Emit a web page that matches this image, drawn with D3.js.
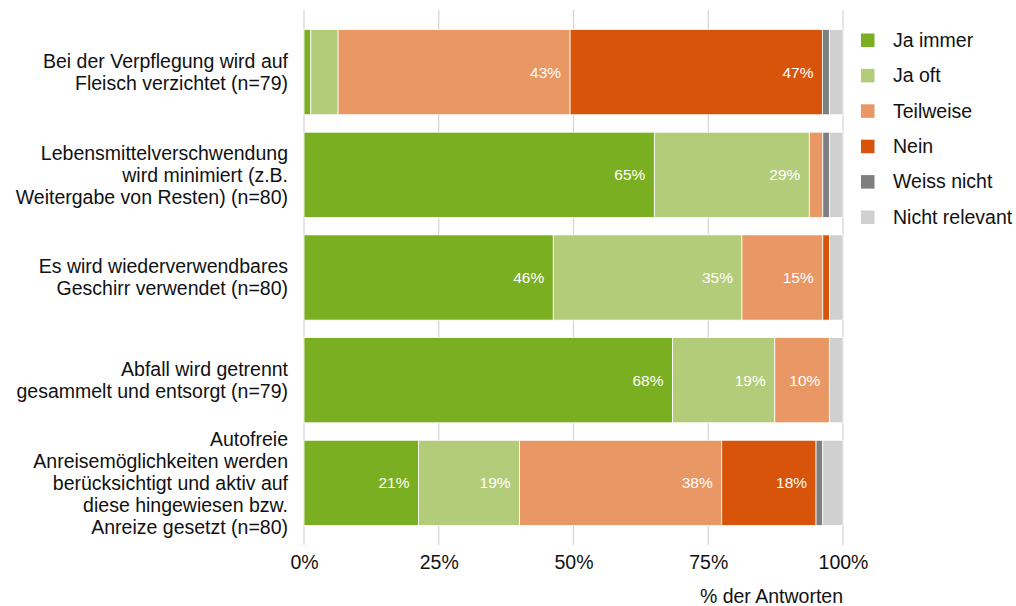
<!DOCTYPE html>
<html>
<head>
<meta charset="utf-8">
<script src="https://cdn.jsdelivr.net/npm/d3@7"></script>
<style>
  html, body { margin: 0; padding: 0; background: #fff; }
  svg { display: block; font-family: "Liberation Sans", Arial, sans-serif; }
</style>
</head>
<body>
<svg id="chart" width="1016" height="606"></svg>
<script>
// Answer categories (stack order, left to right)
var series = ['Ja immer', 'Ja oft', 'Teilweise', 'Nein', 'Weiss nicht', 'Nicht relevant'];
var colors = ['#7baf22', '#b3cc7a', '#e99764', '#d9540b', '#7f7f7f', '#d0d0d0'];

// Questions, one label line per entry
var categories = [
  ['Bei der Verpflegung wird auf', 'Fleisch verzichtet (n=79)'],
  ['Lebensmittelverschwendung', 'wird minimiert (z.B.', 'Weitergabe von Resten) (n=80)'],
  ['Es wird wiederverwendbares', 'Geschirr verwendet (n=80)'],
  ['Abfall wird getrennt', 'gesammelt und entsorgt (n=79)'],
  ['Autofreie', 'Anreisemöglichkeiten werden', 'berücksichtigt und aktiv auf', 'diese hingewiesen bzw.', 'Anreize gesetzt (n=80)']
];
var nAnswers = [79, 80, 80, 79, 80];

// Number of answers per category and question
var jaImmer = [1, 52, 37, 54, 17];
var jaOft = [4, 23, 28, 15, 15];
var teilweise = [34, 2, 12, 8, 30];
var nein = [37, 0, 1, 0, 14];
var weissNicht = [1, 1, 0, 0, 1];
var nichtRelevant = [2, 2, 2, 2, 3];

var xTicks = [0, 0.25, 0.5, 0.75, 1];

// Chart margins / panel
var PANEL = { left: 304, right: 843, top: 10, bottom: 545 };
var FONT = 19.5;
var LINE_H = 22;
var TEXT_COLOR = '#111';

var svg = d3.select('#chart');

// Build rows of shares for the stack (raw counts kept for the labels)
var counts = [jaImmer, jaOft, teilweise, nein, weissNicht, nichtRelevant];
var rows = categories.map(function(c, i) {
  var row = { idx: i, n: nAnswers[i], counts: {} };
  series.forEach(function(s, j) {
    row[s] = counts[j][i] / nAnswers[i];
    row.counts[s] = counts[j][i];
  });
  return row;
});

var x = d3.scaleLinear().domain([0, 1]).range([PANEL.left, PANEL.right]);
var y = d3.scaleBand()
  .domain(d3.range(categories.length))
  .range([PANEL.top, PANEL.bottom])
  .paddingInner(0.17)
  .paddingOuter(0.19);
var color = d3.scaleOrdinal().domain(series).range(colors);

// Grid lines
svg.append('g')
  .selectAll('line')
  .data(xTicks)
  .join('line')
  .attr('x1', function(d) { return x(d); })
  .attr('x2', function(d) { return x(d); })
  .attr('y1', PANEL.top)
  .attr('y2', PANEL.bottom)
  .attr('stroke', '#d4d4d4')
  .attr('stroke-width', 1.2);

// Stacked bars
var stacked = d3.stack().keys(series)(rows);

var layers = svg.append('g')
  .selectAll('g')
  .data(stacked)
  .join('g')
  .attr('fill', function(d) { return color(d.key); });

layers.selectAll('rect')
  .data(function(d) { return d.filter(function(p) { return p[1] - p[0] > 0; }); })
  .join('rect')
  .attr('x', function(d) { return x(d[0]); })
  .attr('width', function(d) { return x(d[1]) - x(d[0]); })
  .attr('y', function(d) { return y(d.data.idx); })
  .attr('height', y.bandwidth())
  .attr('stroke', '#fff')
  .attr('stroke-width', 0.8);

// Percent labels inside segments (only the bigger ones)
layers.each(function(layer) {
  var key = layer.key;
  d3.select(this).selectAll('text')
    .data(layer.filter(function(p) { return p.data[key] >= 0.095; }))
    .join('text')
    .attr('x', function(d) { return x(d[1]) - 9; })
    .attr('y', function(d) { return y(d.data.idx) + y.bandwidth() / 2 + 5.5; })
    .attr('text-anchor', 'end')
    .attr('fill', '#fff')
    .attr('font-size', 15.5)
    .text(function(d) { return Math.round(d.data.counts[key] * 100 / d.data.n) + '%'; });
});

// Category labels
var yLabels = svg.append('g')
  .selectAll('text')
  .data(categories)
  .join('text')
  .attr('text-anchor', 'end')
  .attr('font-size', FONT)
  .attr('fill', TEXT_COLOR);

yLabels.each(function(lines, i) {
  var cy = y(i) + y.bandwidth() / 2;
  d3.select(this).selectAll('tspan')
    .data(lines)
    .join('tspan')
    .attr('x', 288)
    .attr('y', function(d, k) {
      return cy + (k - (lines.length - 1) / 2) * LINE_H + 0.35 * FONT;
    })
    .text(function(d) { return d; });
});

// X axis
var xAxis = svg.append('g')
  .attr('transform', 'translate(0,' + PANEL.bottom + ')')
  .call(d3.axisBottom(x).tickValues(xTicks).tickFormat(d3.format('.0%')).tickSize(0).tickPadding(10));
xAxis.select('.domain').remove();
xAxis.selectAll('text')
  .attr('font-size', FONT)
  .attr('font-family', '"Liberation Sans", Arial, sans-serif')
  .attr('fill', TEXT_COLOR);

svg.append('text')
  .attr('x', PANEL.right)
  .attr('y', 603)
  .attr('text-anchor', 'end')
  .attr('font-size', FONT)
  .attr('fill', TEXT_COLOR)
  .text('% der Antworten');

// Legend
var legend = svg.append('g')
  .selectAll('g')
  .data(series)
  .join('g')
  .attr('transform', function(d, i) { return 'translate(861,' + (40 + i * 35.4) + ')'; });

legend.append('rect')
  .attr('x', 0)
  .attr('y', -6.5)
  .attr('width', 13.5)
  .attr('height', 13.5)
  .attr('fill', function(d) { return color(d); });

legend.append('text')
  .attr('x', 32)
  .attr('y', 0.35 * FONT)
  .attr('font-size', FONT)
  .attr('fill', TEXT_COLOR)
  .text(function(d) { return d; });
</script>
</body>
</html>
